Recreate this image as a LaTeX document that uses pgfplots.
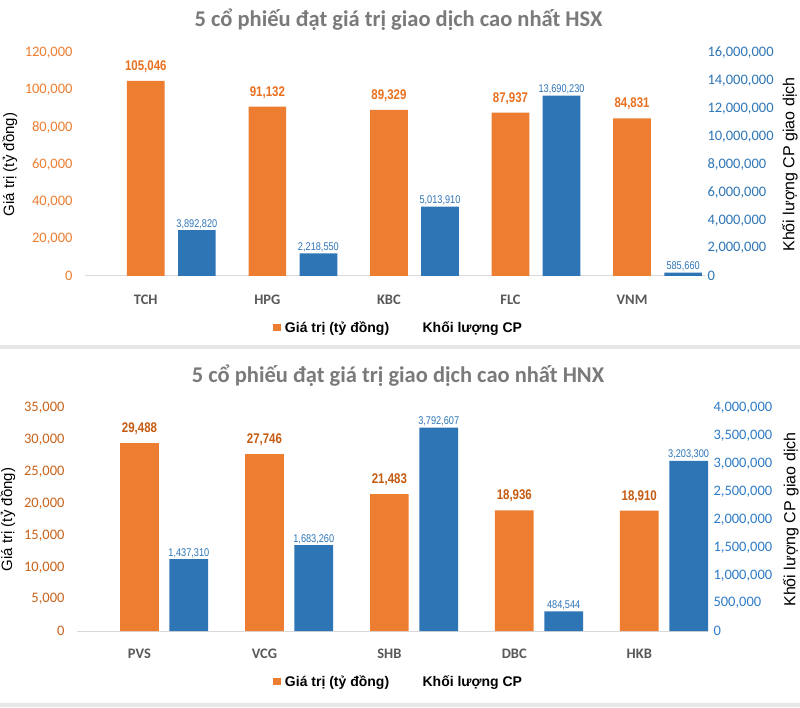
\documentclass[border=0pt]{standalone}
\usepackage{fontspec}
\usepackage{pgfplots}
\usepackage{pgfplotstable}
\pgfplotsset{compat=1.18}
\setmainfont{Carlito}
\newfontfamily\arialfont{Liberation Sans}
\newfontfamily\narrowfont[FakeStretch=0.82]{Liberation Sans}

\definecolor{barOrange}{HTML}{ED7D31}
\definecolor{barBlue}{HTML}{2E75B6}
\definecolor{tickOrangeA}{HTML}{ED7D31}
\definecolor{tickOrangeB}{HTML}{C8621C}
\definecolor{lblOrangeA}{HTML}{E8701F}
\definecolor{lblOrangeB}{HTML}{C55A11}
\definecolor{tickBlueA}{HTML}{2E75B6}
\definecolor{tickBlueB}{HTML}{2F7BC8}
\definecolor{titleGray}{HTML}{7A7A7A}
\definecolor{catGray}{HTML}{595959}
\definecolor{baseGray}{HTML}{D9D9D9}
\definecolor{sepGray}{HTML}{E7E7E7}

% HSX: value (ty dong), orange bars at 0..4
\pgfplotstableread{
x v lab
0 105046 105,046
1 91132 91,132
2 89329 89,329
3 87937 87,937
4 84831 84,831
}\hsxval
% HSX: volume bars (heights as drawn), labels as printed
\pgfplotstableread{
x v lab
0.42 3300000 3,892,820
1.42 1630000 2,218,550
2.42 4970000 5,013,910
3.42 12940000 13,690,230
4.42 240000 585,660
}\hsxvol
% HNX
\pgfplotstableread{
x v lab
0 29488 29,488
1 27746 27,746
2 21483 21,483
3 18936 18,936
4 18910 18,910
}\hnxval
\pgfplotstableread{
x v lab
0.395 1290000 1,437,310
1.395 1540000 1,683,260
2.395 3650000 3,792,607
3.395 350000 484,544
4.395 3050000 3,203,300
}\hnxvol

\pgfplotsset{
  panel/.style={
    scale only axis, ymin=0, enlargelimits=false, clip=false,
    ybar, bar width=0.31,
    xtick style={draw=none}, ytick style={draw=none},
    scaled y ticks=false,
    /pgf/number format/fixed, /pgf/number format/1000 sep={,},
    /pgf/number format/assume math mode=true,
    y axis line style={draw=none},
    point meta=explicit symbolic,
    nodes near coords,
  },
  leftpanel/.style={
    panel,
    axis x line*=bottom, axis y line*=left,
    x axis line style={draw=baseGray, line width=1pt},
    xtick={0,1,2,3,4},
    xticklabel style={font=\bfseries\fontsize{14.5}{14.5}\selectfont, text=catGray, anchor=base},
    yticklabel style={font=\fontsize{14.5}{14.5}\selectfont, xshift=-9pt},
    ylabel style={font=\arialfont\fontsize{15}{15}\selectfont, text=black, anchor=center},
    every axis title shift=0pt,
    title style={font=\bfseries\fontsize{22.5}{22.5}\selectfont, text=titleGray, anchor=base},
    nodes near coords style={font=\narrowfont\bfseries\fontsize{14}{14}\selectfont, anchor=base, yshift=10.5pt},
    legend columns=2,
    legend style={draw=none, fill=none, inner sep=0pt, outer sep=0pt, anchor=west,
      font=\arialfont\bfseries\fontsize{14}{14}\selectfont,
      nodes={inner sep=2pt},
      /tikz/every even column/.append style={column sep=29pt}},
  },
  rightpanel/.style={
    panel,
    axis x line=none, axis y line*=right,
    yticklabel style={font=\fontsize{14.5}{14.5}\selectfont},
    ylabel style={font=\arialfont\fontsize{16}{16}\selectfont, text=black, anchor=center},
    nodes near coords style={font=\narrowfont\fontsize{11.2}{11.2}\selectfont, anchor=base, yshift=3pt},
  },
}

\begin{document}
\begin{tikzpicture}[x=1pt,y=1pt]
\fill[white] (0,0) rectangle (800,707);
\useasboundingbox (0,0) rectangle (800,707);
\fill[sepGray] (0,358) rectangle (800,362);
\fill[sepGray] (0,0) rectangle (800,4);

% ---------- HSX ----------
\begin{axis}[leftpanel,
  at={(85pt,431pt)}, anchor=south west, width=620pt, height=223pt,
  xmin=-0.5, xmax=4.6, ymax=120000,
  ytick={0,20000,40000,60000,80000,100000,120000},
  xticklabels={TCH,HPG,KBC,FLC,VNM},
  xticklabel style={yshift=-24pt},
  yticklabel style={text=tickOrangeA},
  ylabel={Giá trị (tỷ đồng)},
  ylabel style={at={(axis description cs:-0.121,0.5)}},
  title={5 cổ phiếu đạt giá trị giao dịch cao nhất HSX},
  title style={at={(axis description cs:0.5056,1.1166)}},
  nodes near coords style={text=lblOrangeA},
  legend style={at={(axis description cs:0.3032,-0.233)}},
]
\addplot[fill=barOrange, draw=none, bar shift=0pt,
  legend image code/.code={\fill[barOrange] (0pt,-3.5pt) rectangle (8pt,3.5pt); \path (10pt,0pt);}]
  table[x=x, y=v, meta=lab] {\hsxval};
\addlegendentry{Giá trị (tỷ đồng)}
\addlegendimage{legend image code/.code={\path (0pt,0pt);}}
\addlegendentry{Khối lượng CP}
\end{axis}

\begin{axis}[rightpanel,
  at={(85pt,431pt)}, anchor=south west, width=620pt, height=223pt,
  xmin=-0.5, xmax=4.6, ymax=16000000,
  ytick={0,2000000,4000000,6000000,8000000,10000000,12000000,14000000,16000000},
  yticklabel style={text=tickBlueA, xshift=-1pt},
  ylabel={Khối lượng CP giao dịch},
  ylabel style={at={(axis description cs:1.137,0.5)}},
  nodes near coords style={text=tickBlueA},
]
\addplot[fill=barBlue, draw=none, bar shift=0pt] table[x=x, y=v, meta=lab] {\hsxvol};
\end{axis}

% ---------- HNX ----------
\begin{axis}[leftpanel,
  at={(77pt,76pt)}, anchor=south west, width=631pt, height=223pt,
  xmin=-0.5, xmax=4.55, ymax=35000,
  ytick={0,5000,10000,15000,20000,25000,30000,35000},
  xticklabels={PVS,VCG,SHB,DBC,HKB},
  xticklabel style={yshift=-23pt},
  yticklabel style={text=tickOrangeB},
  ylabel={Giá trị (tỷ đồng)},
  ylabel style={at={(axis description cs:-0.1094,0.5)}},
  title={5 cổ phiếu đạt giá trị giao dịch cao nhất HNX},
  title style={at={(axis description cs:0.5087,1.1166)}},
  nodes near coords style={text=lblOrangeB},
  legend style={at={(axis description cs:0.3106,-0.2265)}},
]
\addplot[fill=barOrange, draw=none, bar shift=0pt,
  legend image code/.code={\fill[barOrange] (0pt,-3.5pt) rectangle (8pt,3.5pt); \path (10pt,0pt);}]
  table[x=x, y=v, meta=lab] {\hnxval};
\addlegendentry{Giá trị (tỷ đồng)}
\addlegendimage{legend image code/.code={\path (0pt,0pt);}}
\addlegendentry{Khối lượng CP}
\end{axis}

\begin{axis}[rightpanel,
  at={(77pt,76pt)}, anchor=south west, width=631pt, height=223pt,
  xmin=-0.5, xmax=4.55, ymax=4000000,
  ytick={0,500000,1000000,1500000,2000000,2500000,3000000,3500000,4000000},
  yticklabel style={text=tickBlueB, xshift=2pt},
  ylabel={Khối lượng CP giao dịch},
  ylabel style={at={(axis description cs:1.1315,0.5)}},
  nodes near coords style={text=tickBlueA},
]
\addplot[fill=barBlue, draw=none, bar shift=0pt] table[x=x, y=v, meta=lab] {\hnxvol};
\end{axis}
\end{tikzpicture}
\end{document}
